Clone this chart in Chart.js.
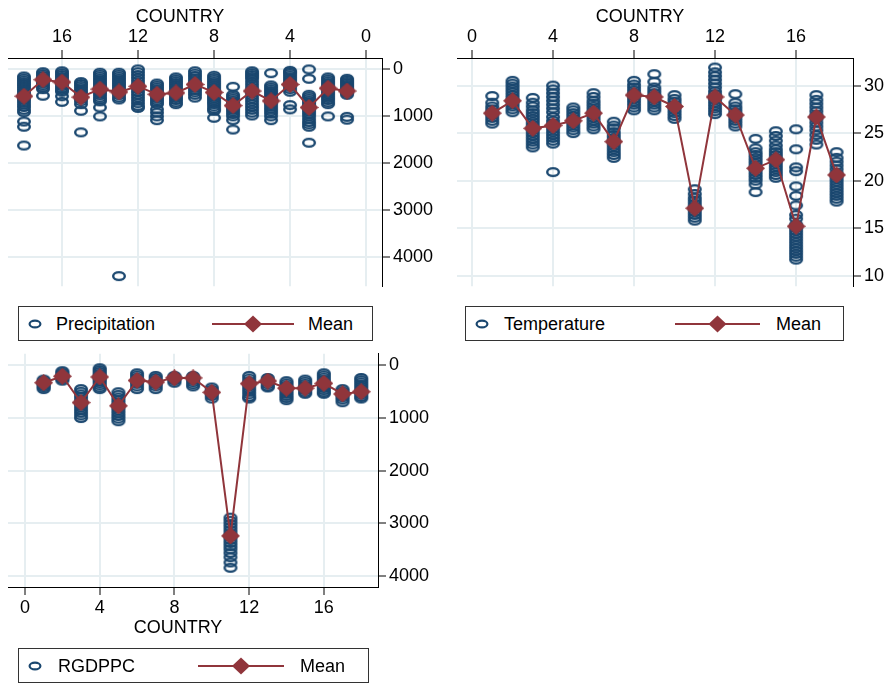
<!DOCTYPE html>
<html>
<head>
<meta charset="utf-8">
<script src="https://cdn.jsdelivr.net/npm/chart.js@4.4.1/dist/chart.umd.min.js"></script>
<style>
  body { margin: 0; background: #fff; font-family: 'Liberation Sans', Arial, sans-serif; }
  #wrap { position: relative; width: 892px; height: 684px; overflow: hidden; background: #fff; }
  canvas { position: absolute; }
  .title { position: absolute; width: 200px; text-align: center; font-size: 18px; line-height: 20px; color: #000; }
  .legend { position: absolute; height: 35px; border: 1px solid #333; box-sizing: border-box; background: #fff; }
  .legend span, .legend svg { position: absolute; }
  .legend span { font-size: 18px; line-height: 20px; top: 7px; color: #000; white-space: nowrap; }
</style>
</head>
<body>
<div id="wrap">
  <canvas id="precip" width="446" height="300" style="left:0;top:0"></canvas>
  <canvas id="temp" width="446" height="300" style="left:446px;top:0"></canvas>
  <canvas id="gdp" width="446" height="300" style="left:0;top:340px"></canvas>

  <div class="title" style="left:80px;top:6px">COUNTRY</div>
  <div class="title" style="left:540px;top:6px">COUNTRY</div>
  <div class="title" style="left:78px;top:617px">COUNTRY</div>

  <div class="legend" style="left:18px;top:306px;width:355px">
    <svg style="left:9px;top:12px" width="14" height="10"><ellipse cx="7" cy="5" rx="5.4" ry="3.4" fill="none" stroke="#1a476f" stroke-width="2.2"/></svg>
    <span style="left:37px">Precipitation</span>
    <svg style="left:193px;top:8px" width="82" height="18"><line x1="0" y1="9" x2="82" y2="9" stroke="#90353b" stroke-width="2"/><polygon points="41,0.5 50,9 41,17.5 32,9" fill="#90353b"/></svg>
    <span style="left:289px">Mean</span>
  </div>
  <div class="legend" style="left:465px;top:306px;width:379px">
    <svg style="left:9px;top:12px" width="14" height="10"><ellipse cx="7" cy="5" rx="5.4" ry="3.4" fill="none" stroke="#1a476f" stroke-width="2.2"/></svg>
    <span style="left:38px">Temperature</span>
    <svg style="left:209px;top:8px" width="85" height="18"><line x1="0" y1="9" x2="85" y2="9" stroke="#90353b" stroke-width="2"/><polygon points="42.5,0.5 51.5,9 42.5,17.5 33.5,9" fill="#90353b"/></svg>
    <span style="left:310px">Mean</span>
  </div>
  <div class="legend" style="left:18px;top:648px;width:351px">
    <svg style="left:9px;top:12px" width="14" height="10"><ellipse cx="7" cy="5" rx="5.4" ry="3.4" fill="none" stroke="#1a476f" stroke-width="2.2"/></svg>
    <span style="left:39px">RGDPPC</span>
    <svg style="left:179px;top:8px" width="86" height="18"><line x1="0" y1="9" x2="86" y2="9" stroke="#90353b" stroke-width="2"/><polygon points="43,0.5 52,9 43,17.5 34,9" fill="#90353b"/></svg>
    <span style="left:281px">Mean</span>
  </div>
</div>

<script>
// countries 1..18
const countries = [1, 2, 3, 4, 5, 6, 7, 8, 9, 10, 11, 12, 13, 14, 15, 16, 17, 18];

// tick labels
const xTicks = [0, 4, 8, 12, 16];
const precipTicks = [0, 1000, 2000, 3000, 4000];
const tempTicks = [10, 15, 20, 25, 30];
const gdpTicks = [0, 1000, 2000, 3000, 4000];

// means per country
const precipMean = [460, 400, 810, 320, 670, 460, 770, 490, 320, 500, 530, 360, 480, 420, 590, 270, 220, 570];
const tempMean = [27.1, 28.4, 25.5, 25.8, 26.3, 27.1, 24.1, 29.0, 28.8, 27.8, 17.1, 28.8, 26.9, 21.3, 22.2, 15.2, 26.7, 20.6];
const gdpMean = [330, 207, 707, 220, 768, 287, 317, 238, 238, 512, 3236, 347, 298, 433, 433, 342, 543, 500];

// yearly observations per country
const precipObs = [
  [200, 230, 260, 290, 320, 350, 380, 410, 440, 470, 500, 540, 1010, 1070],
  [170, 210, 250, 290, 330, 370, 410, 450, 490, 530, 570, 610, 650, 700, 740, 1000],
  [0, 200, 540, 580, 620, 660, 700, 740, 780, 820, 860, 900, 950, 1000, 1060, 1120, 1170, 1220, 1560],
  [30, 60, 90, 130, 170, 210, 250, 290, 330, 370, 420, 475, 760, 850],
  [80, 340, 380, 420, 460, 500, 540, 580, 620, 660, 700, 740, 790, 840, 890, 940, 1000, 1080],
  [40, 80, 120, 160, 200, 260, 320, 380, 440, 500, 560, 620, 680, 740, 800, 860, 920, 980],
  [370, 540, 580, 620, 660, 700, 740, 780, 820, 860, 900, 950, 1000, 1080, 1280],
  [135, 180, 220, 260, 300, 340, 380, 420, 460, 500, 540, 580, 620, 660, 700, 740, 790, 840, 880, 1030],
  [40, 90, 140, 190, 240, 290, 340, 390, 440, 490, 540, 600],
  [170, 210, 250, 290, 330, 370, 410, 450, 490, 530, 570, 610, 650, 700, 740],
  [300, 340, 380, 420, 460, 500, 540, 580, 620, 660, 700, 740, 850, 920, 1000, 1080],
  [0, 60, 120, 180, 240, 300, 360, 420, 480, 540, 600, 660, 720, 780, 820],
  [70, 110, 150, 190, 230, 270, 310, 350, 390, 430, 470, 510, 550, 600, 640, 4400],
  [70, 110, 150, 190, 230, 270, 310, 350, 390, 430, 470, 510, 550, 600, 640, 680, 810, 1000],
  [270, 310, 350, 390, 430, 470, 510, 550, 590, 630, 680, 740, 880, 1340],
  [40, 80, 120, 160, 200, 240, 280, 320, 360, 400, 440, 475, 570, 690],
  [60, 100, 140, 180, 220, 260, 300, 340, 380, 420, 560],
  [150, 190, 230, 270, 310, 350, 390, 430, 470, 510, 550, 600, 650, 700, 750, 800, 860, 910, 1110, 1220, 1620]
];

const tempObs = [
  [26.0, 26.3, 26.6, 26.9, 27.2, 27.5, 27.8, 28.2, 28.9],
  [27.2, 27.5, 27.8, 28.1, 28.4, 28.7, 29.0, 29.3, 29.6, 29.9, 30.2, 30.5],
  [23.5, 23.8, 24.1, 24.4, 24.7, 25.0, 25.3, 25.6, 25.9, 26.2, 26.5, 26.8, 27.1, 27.4, 27.8, 28.2, 28.7],
  [20.9, 23.9, 24.2, 24.5, 24.8, 25.1, 25.4, 25.7, 26.0, 26.3, 26.7, 27.2, 27.6, 28.0, 28.4, 28.8, 29.2, 29.6, 30.0],
  [25.0, 25.3, 25.6, 25.9, 26.2, 26.5, 26.8, 27.1, 27.4, 27.7],
  [25.4, 25.7, 26.0, 26.3, 26.6, 26.9, 27.2, 27.5, 27.8, 28.1, 28.4, 28.8, 29.2],
  [22.4, 22.7, 23.0, 23.3, 23.6, 23.9, 24.2, 24.5, 24.8, 25.1, 25.5, 25.8, 26.2],
  [27.4, 27.7, 28.0, 28.3, 28.6, 28.9, 29.2, 29.5, 29.8, 30.1, 30.5],
  [27.4, 27.7, 28.0, 28.3, 28.6, 28.9, 29.2, 29.5, 29.8, 30.4, 31.2],
  [26.5, 26.8, 27.1, 27.4, 27.7, 28.0, 28.3, 28.6, 29.0],
  [15.8, 16.1, 16.4, 16.7, 17.0, 17.3, 17.6, 17.9, 18.2, 18.6, 19.1],
  [27.0, 27.3, 27.6, 27.9, 28.2, 28.5, 28.8, 29.1, 29.4, 29.8, 30.2, 30.6, 31.0, 31.4, 31.9],
  [25.7, 26.0, 26.3, 26.6, 26.9, 27.2, 27.5, 27.8, 28.2, 29.1],
  [18.8, 19.6, 20.0, 20.3, 20.6, 20.9, 21.2, 21.5, 21.8, 22.1, 22.4, 22.7, 23.0, 23.4, 24.4],
  [20.3, 20.6, 20.9, 21.2, 21.5, 21.8, 22.1, 22.4, 22.7, 23.0, 23.3, 23.7, 24.2, 24.7, 25.2],
  [11.7, 12.0, 12.3, 12.6, 12.9, 13.2, 13.5, 13.8, 14.1, 14.4, 14.7, 15.0, 15.4, 16.0, 16.4, 17.4, 18.4, 19.4, 21.0, 21.4, 23.3, 25.4],
  [23.8, 24.3, 24.8, 25.3, 25.7, 26.1, 26.5, 26.9, 27.3, 27.7, 28.1, 28.5, 29.0],
  [17.8, 18.1, 18.4, 18.7, 19.0, 19.3, 19.6, 19.9, 20.2, 20.5, 20.8, 21.2, 21.6, 22.0, 22.4, 23.0]
];

const gdpObs = [
  [270, 300, 330, 360, 390, 420, 450],
  [110, 140, 170, 200, 230, 260, 290],
  [450, 500, 550, 600, 650, 700, 750, 800, 850, 900, 950, 1000],
  [55, 90, 125, 160, 195, 230, 265, 300, 340, 380, 420, 450],
  [510, 560, 610, 660, 710, 760, 810, 860, 910, 960, 1010, 1060],
  [150, 190, 230, 270, 310, 350, 400, 450],
  [200, 240, 280, 320, 360, 400, 450],
  [200, 230, 260, 290, 330],
  [200, 240, 280, 320, 360, 400],
  [420, 460, 500, 540, 580, 630],
  [2890, 2950, 3010, 3070, 3130, 3190, 3250, 3310, 3370, 3430, 3490, 3560, 3640, 3740, 3840],
  [200, 250, 300, 350, 400, 450, 500, 550, 600, 630],
  [240, 280, 320, 360, 400, 420],
  [300, 340, 380, 420, 460, 500, 540, 580, 620, 660],
  [270, 310, 350, 390, 430, 470, 510, 540],
  [150, 190, 230, 270, 310, 350, 390, 430, 470, 510, 540],
  [450, 490, 530, 570, 610, 650, 700],
  [240, 280, 320, 360, 400, 440, 480, 520, 560, 600, 630]
];

const NAVY = '#1a476f';
const MAROON = '#90353b';
const GRID = '#e6eef1';
const FONT = { family: "'Liberation Sans', Arial, sans-serif", size: 18 };

// hollow ellipse like the Stata "Oh" marker
function ellipseMarker() {
  const c = document.createElement('canvas');
  c.width = 16; c.height = 12;
  const g = c.getContext('2d');
  g.strokeStyle = NAVY;
  g.lineWidth = 2.4;
  g.beginPath();
  g.ellipse(8, 6, 5.8, 3.9, 0, 0, Math.PI * 2);
  g.stroke();
  return c;
}

function diamondMarker() {
  const c = document.createElement('canvas');
  c.width = 19; c.height = 17;
  const g = c.getContext('2d');
  g.fillStyle = MAROON;
  g.beginPath();
  g.moveTo(9.5, 0); g.lineTo(19, 8.5); g.lineTo(9.5, 17); g.lineTo(0, 8.5);
  g.closePath();
  g.fill();
  return c;
}

const oh = ellipseMarker();
const dia = diamondMarker();

function makePanel(id, cfg) {
  const points = [];
  countries.forEach((c, i) => cfg.obs[i].forEach(v => points.push({ x: c, y: v })));
  const means = countries.map((c, i) => ({ x: c, y: cfg.mean[i] }));

  new Chart(document.getElementById(id), {
    type: 'scatter',
    data: {
      datasets: [
        { data: means, showLine: true, borderColor: MAROON, borderWidth: 2, pointStyle: dia, order: 0 },
        { data: points, pointStyle: oh, order: 1 }
      ]
    },
    options: {
      responsive: false,
      animation: false,
      devicePixelRatio: 1,
      layout: { padding: cfg.pad },
      plugins: { legend: { display: false }, tooltip: { enabled: false } },
      scales: {
        x: {
          type: 'linear',
          position: cfg.xPos,
          reverse: cfg.xRev,
          min: cfg.xMin, max: cfg.xMax,
          afterFit: s => { s.height = cfg.xH; },
          afterBuildTicks: s => { s.ticks = xTicks.map(v => ({ value: v })); },
          grid: { color: GRID, lineWidth: 2, tickColor: '#000', tickLength: 8, tickWidth: 1 },
          border: { color: '#000', width: 1 },
          ticks: { font: FONT, color: '#000', padding: 2, maxRotation: 0, callback: v => String(v) }
        },
        y: {
          type: 'linear',
          position: 'right',
          reverse: cfg.yRev,
          min: cfg.yMin, max: cfg.yMax,
          afterFit: s => { s.width = cfg.yW; },
          afterBuildTicks: s => { s.ticks = cfg.yTicks.map(v => ({ value: v })); },
          grid: { color: GRID, lineWidth: 2, tickColor: '#000', tickLength: 8, tickWidth: 1 },
          border: { color: '#000', width: 1 },
          ticks: { font: FONT, color: '#000', padding: 3, callback: v => String(v) }
        }
      }
    }
  });
}

makePanel('precip', {
  obs: precipObs, mean: precipMean, yTicks: precipTicks,
  pad: { left: 8, right: 0, top: 0, bottom: 2 },
  xPos: 'top', xRev: true, xMin: -0.84, xMax: 18.84, xH: 58,
  yRev: true, yMin: -243, yMax: 4615, yW: 64
});

makePanel('temp', {
  obs: tempObs, mean: tempMean, yTicks: tempTicks,
  pad: { left: 11, right: 0, top: 0, bottom: 2 },
  xPos: 'top', xRev: false, xMin: -0.74, xMax: 18.81, xH: 58,
  yRev: false, yMin: 8.9, yMax: 32.9, yW: 39
});

makePanel('gdp', {
  obs: gdpObs, mean: gdpMean, yTicks: gdpTicks,
  pad: { left: 8, right: 0, top: 5, bottom: 0 },
  xPos: 'bottom', xRev: false, xMin: -0.91, xMax: 18.9, xH: 53,
  yRev: true, yMin: -219, yMax: 4205, yW: 68
});
</script>
</body>
</html>
